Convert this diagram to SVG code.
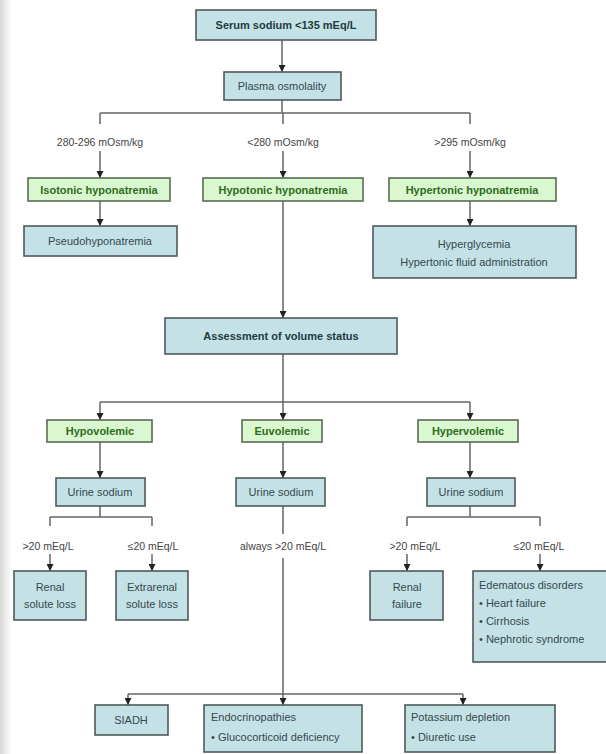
<svg xmlns="http://www.w3.org/2000/svg" width="606" height="754" viewBox="0 0 606 754">
<defs>
<linearGradient id="edge" x1="0" y1="0" x2="1" y2="0">
<stop offset="0" stop-color="#d8d8d8"/><stop offset="1" stop-color="#ffffff"/>
</linearGradient>
<marker id="ah" markerWidth="7" markerHeight="7" refX="7" refY="3.5" orient="auto" markerUnits="userSpaceOnUse" viewBox="0 0 7 7">
<path d="M0,0 L7,3.5 L0,7 Z" fill="#222"/>
</marker>
</defs>
<style>
.blue{fill:#c4e2e6;stroke:#4e5a5c;stroke-width:1.6}
.green{fill:#d9f8cf;stroke:#5b6b55;stroke-width:1.6}
.t{font-family:"Liberation Sans",Arial,sans-serif;font-size:11px;fill:#34484c;text-anchor:middle}
.tl{font-family:"Liberation Sans",Arial,sans-serif;font-size:11px;fill:#34484c}
.b{font-family:"Liberation Sans",Arial,sans-serif;font-size:11px;font-weight:bold;fill:#1f3a40;text-anchor:middle}
.g{font-family:"Liberation Sans",Arial,sans-serif;font-size:11px;font-weight:bold;fill:#2e6b1c;text-anchor:middle}
.lab{font-family:"Liberation Sans",Arial,sans-serif;font-size:10.5px;fill:#444;text-anchor:middle}
.c{fill:none;stroke:#666;stroke-width:1.5}
.a{fill:none;stroke:#666;stroke-width:1.5;marker-end:url(#ah)}
</style>
<rect width="606" height="754" fill="#fff"/>
<rect width="12" height="754" fill="url(#edge)"/>

<g id="connectors">
<path class="a" d="M282,40 V72"/>
<path class="c" d="M282,100 V113 M100,113 H470 M100,113 V124 M283,113 V124 M470,113 V124"/>
<path class="a" d="M100,151 V178"/>
<path class="a" d="M283,151 V178"/>
<path class="a" d="M470,151 V178"/>
<path class="a" d="M100,200 V226"/>
<path class="a" d="M470,200 V226"/>
<path class="a" d="M283,200 V318"/>
<path class="c" d="M283,354 V402 M100,402 H470"/>
<path class="a" d="M100,402 V420"/>
<path class="a" d="M283,402 V420"/>
<path class="a" d="M470,402 V420"/>
<path class="a" d="M100,442 V478"/>
<path class="a" d="M283,442 V478"/>
<path class="a" d="M470,442 V478"/>
<path class="c" d="M100,506 V517 M50,517 H152 M50,517 V526 M152,517 V526"/>
<path class="a" d="M50,554 V571"/>
<path class="a" d="M152,554 V571"/>
<path class="c" d="M470,506 V517 M407,517 H540 M407,517 V526 M540,517 V526"/>
<path class="a" d="M407,554 V571"/>
<path class="a" d="M540,554 V571"/>
<path class="c" d="M283,506 V534 M283,558 V694 M128,694 H463"/>
<path class="a" d="M128,694 V705"/>
<path class="a" d="M283,694 V705"/>
<path class="a" d="M463,694 V705"/>
</g>

<g id="n-serum"><rect class="blue" x="196" y="10" width="180" height="30"/><text class="b" x="286" y="29">Serum sodium &lt;135 mEq/L</text></g>
<g id="n-plasma"><rect class="blue" x="224" y="72" width="117" height="28"/><text class="t" x="282" y="90">Plasma osmolality</text></g>

<g id="labels1">
<text class="lab" x="100" y="146">280-296 mOsm/kg</text>
<text class="lab" x="283" y="146">&lt;280 mOsm/kg</text>
<text class="lab" x="470" y="146">&gt;295 mOsm/kg</text>
</g>

<g id="n-isotonic"><rect class="green" x="28" y="178" width="142" height="23"/><text class="g" x="99" y="194">Isotonic hyponatremia</text></g>
<g id="n-hypotonic"><rect class="green" x="203" y="178" width="160" height="23"/><text class="g" x="283" y="194">Hypotonic hyponatremia</text></g>
<g id="n-hypertonic"><rect class="green" x="389" y="178" width="167" height="23"/><text class="g" x="472" y="194">Hypertonic hyponatremia</text></g>

<g id="n-pseudo"><rect class="blue" x="24" y="226" width="153" height="30"/><text class="t" x="100" y="245">Pseudohyponatremia</text></g>
<g id="n-hyperglycemia"><rect class="blue" x="373" y="226" width="203" height="52"/><text class="t" x="474" y="248">Hyperglycemia</text><text class="t" x="474" y="266">Hypertonic fluid administration</text></g>

<g id="n-assess"><rect class="blue" x="165" y="318" width="232" height="36"/><text class="b" x="281" y="340">Assessment of volume status</text></g>

<g id="n-hypovolemic"><rect class="green" x="47" y="420" width="105" height="22"/><text class="g" x="100" y="435">Hypovolemic</text></g>
<g id="n-euvolemic"><rect class="green" x="242" y="420" width="80" height="22"/><text class="g" x="282" y="435">Euvolemic</text></g>
<g id="n-hypervolemic"><rect class="green" x="418" y="420" width="100" height="22"/><text class="g" x="468" y="435">Hypervolemic</text></g>

<g id="n-urine1"><rect class="blue" x="56" y="478" width="89" height="28"/><text class="t" x="100" y="496">Urine sodium</text></g>
<g id="n-urine2"><rect class="blue" x="236" y="478" width="89" height="28"/><text class="t" x="281" y="496">Urine sodium</text></g>
<g id="n-urine3"><rect class="blue" x="427" y="478" width="88" height="28"/><text class="t" x="471" y="496">Urine sodium</text></g>

<g id="labels2">
<text class="lab" x="48" y="550">&gt;20 mEq/L</text>
<text class="lab" x="153" y="550">≤20 mEq/L</text>
<text class="lab" x="283" y="550">always &gt;20 mEq/L</text>
<text class="lab" x="415" y="550">&gt;20 mEq/L</text>
<text class="lab" x="539" y="550">≤20 mEq/L</text>
</g>

<g id="n-renalsolute"><rect class="blue" x="14" y="571" width="72" height="49"/><text class="t" x="50" y="591">Renal</text><text class="t" x="50" y="608">solute loss</text></g>
<g id="n-extrarenal"><rect class="blue" x="116" y="571" width="72" height="49"/><text class="t" x="152" y="591">Extrarenal</text><text class="t" x="152" y="608">solute loss</text></g>
<g id="n-renalfailure"><rect class="blue" x="370" y="571" width="73" height="49"/><text class="t" x="407" y="591">Renal</text><text class="t" x="407" y="608">failure</text></g>
<g id="n-edematous"><rect class="blue" x="473" y="571" width="134" height="91"/>
<text class="tl" x="479" y="589">Edematous disorders</text>
<text class="tl" x="479" y="607">• Heart failure</text>
<text class="tl" x="479" y="625">• Cirrhosis</text>
<text class="tl" x="479" y="643">• Nephrotic syndrome</text></g>

<g id="n-siadh"><rect class="blue" x="95" y="705" width="73" height="30"/><text class="t" x="131" y="724">SIADH</text></g>
<g id="n-endo"><rect class="blue" x="204" y="705" width="158" height="47"/><text class="tl" x="211" y="721">Endocrinopathies</text><text class="tl" x="211" y="741">• Glucocorticoid deficiency</text></g>
<g id="n-potassium"><rect class="blue" x="405" y="705" width="150" height="47"/><text class="tl" x="411" y="721">Potassium depletion</text><text class="tl" x="411" y="741">• Diuretic use</text></g>
</svg>
